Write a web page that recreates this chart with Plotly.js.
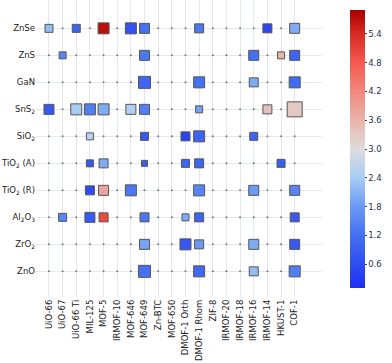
<!DOCTYPE html>
<html>
<head>
<meta charset="utf-8">
<script src="https://cdn.plot.ly/plotly-3.0.1.min.js"></script>
<style>body{margin:0;background:#fff}</style>
</head>
<body>
<div id="chart" style="width:392px;height:363px"></div>
<script>
// substrates (rows) and frameworks (columns)
var materials = ['ZnSe', 'ZnS', 'GaN', 'SnS<sub>2</sub>', 'SiO<sub>2</sub>', 'TiO<sub>2</sub> (A)',
    'TiO<sub>2</sub> (R)', 'Al<sub>2</sub>O<sub>3</sub>', 'ZrO<sub>2</sub>', 'ZnO'];
var frameworks = ['UiO-66', 'UiO-67', 'UiO-66 Ti', 'MIL-125', 'MOF-5', 'IRMOF-10', 'MOF-646',
    'MOF-649', 'Zn-BTC', 'MOF-650', 'DMOF-1 Orth', 'DMOF-1 Rhom', 'ZIF-8', 'IRMOF-20',
    'IRMOF-18', 'IRMOF-16', 'IRMOF-14', 'HKUST-1', 'COF-1'];

// one entry per matched pair
var pairMat = [0,0,0,0,0,0,0,0, 1,1,1,1,1, 2,2,2,2, 3,3,3,3,3,3,3,3,3,
    4,4,4,4,4, 5,5,5,5,5,5, 6,6,6,6,6,6, 7,7,7,7,7,7,7, 8,8,8,8,8, 9,9,9,9];
var pairMof = [0,2,4,6,7,11,16,18, 1,7,15,17,18, 7,11,15,18, 0,2,3,4,6,7,11,16,18,
    3,7,10,11,15, 3,4,7,10,11,17, 3,4,6,11,15,18, 1,3,4,7,10,11,18, 7,10,11,15,18, 7,11,15,18];
var pairValue = [2.2,1.0,5.7,0.7,1.2,1.3,0.5,2.0, 1.5,1.3,1.2,3.6,1.0, 1.0,1.2,2.0,1.1,
    0.8,2.4,1.4,2.0,2.5,1.4,1.9,3.4,3.3, 2.6,0.8,0.45,1.0,1.0, 0.8,2.0,0.9,1.0,1.0,0.9,
    0.6,3.8,1.3,1.5,1.8,1.5, 1.5,0.8,5.0,1.3,2.0,1.0,0.8, 1.9,0.8,1.8,2.0,0.8, 1.2,1.1,2.2,1.4];
var pairArea = [8,8,11,11,10,9,9,10, 7,10,10,7,10, 12,11,9,11, 10,11,11,11,10,10,7,9,15,
    7,8,9,11,8, 7,9,6,8,9,8, 9,10,11,11,10,10, 8,10,9,9,7,9,9, 10,11,9,10,10, 12,11,9,11];

var allX = [], allY = [];
materials.forEach(function (m) {
    frameworks.forEach(function (f) { allX.push(f); allY.push(m); });
});

var dots = {
    x: allX, y: allY, type: 'scatter', mode: 'markers', hoverinfo: 'skip',
    marker: {size: 2, color: '#777'}, showlegend: false
};

var squares = {
    x: pairMof.map(function (i) { return frameworks[i]; }),
    y: pairMat.map(function (i) { return materials[i]; }),
    type: 'scatter', mode: 'markers', showlegend: false,
    marker: {
        symbol: 'square',
        size: pairArea,
        opacity: 1,
        color: pairValue,
        cmin: 0.1, cmax: 5.9,
        colorscale: [
            [0, '#1e2ff0'], [0.19, '#4570f2'], [0.293, '#6b9af5'], [0.397, '#a8cdf5'],
            [0.5, '#dddddd'], [0.603, '#e9b4ab'], [0.707, '#f2877e'], [0.81, '#f55a50'],
            [0.914, '#d82a22'], [1, '#a80000']
        ],
        line: {color: '#555', width: 1},
        colorbar: {
            x: 1.062, xanchor: 'left', y: 1, yanchor: 'top',
            lenmode: 'pixels', len: 298, thickness: 15, outlinewidth: 0,
            tickvals: [0.6, 1.2, 1.8, 2.4, 3.0, 3.6, 4.2, 4.8, 5.4],
            ticktext: ['0.6', '1.2', '1.8', '2.4', '3.0', '3.6', '4.2', '4.8', '5.4'],
            ticks: 'outside', ticklen: 2, tickcolor: '#444',
            tickfont: {family: 'DejaVu Sans', size: 8.5, color: '#2a3050'}
        }
    }
};

var layout = {
    width: 392, height: 363,
    margin: {l: 36, r: 50, t: 0, b: 66},
    paper_bgcolor: '#fff', plot_bgcolor: '#fff',
    font: {family: 'DejaVu Sans', size: 8.5, color: '#222'},
    xaxis: {
        type: 'category', categoryarray: frameworks, range: [-0.95, 20],
        tickangle: -90, showgrid: true, gridcolor: '#e3e8ec', zeroline: false,
        showline: false, ticks: '', automargin: false,
        tickfont: {family: 'DejaVu Sans', size: 8.5, color: '#222'}
    },
    yaxis: {
        type: 'category', categoryarray: materials, range: [9.95, -1.05],
        showgrid: true, gridcolor: '#e3e8ec', zeroline: false,
        showline: false, ticks: '', automargin: false,
        tickfont: {family: 'DejaVu Sans', size: 8.5, color: '#222'}
    }
};

Plotly.newPlot('chart', [dots, squares], layout, {displayModeBar: false});
</script>
</body>
</html>
